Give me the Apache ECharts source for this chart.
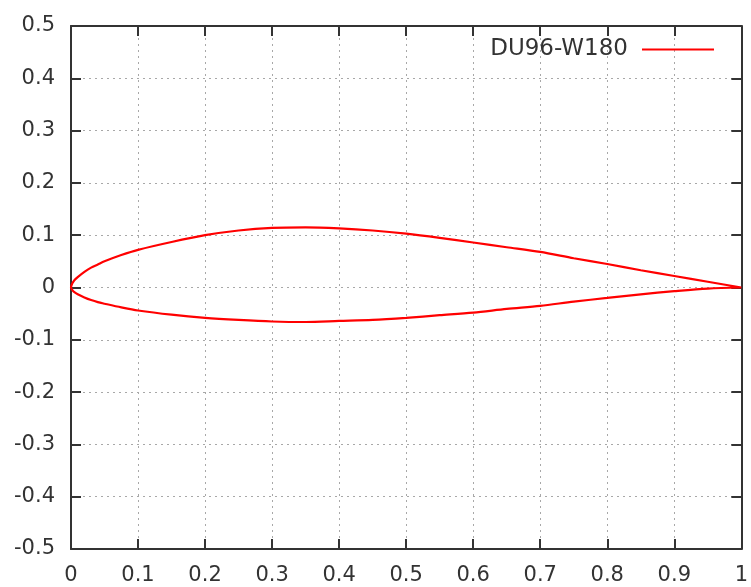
<!DOCTYPE html>
<html>
<head>
<meta charset="utf-8">
<script src="https://cdn.jsdelivr.net/npm/echarts@6/dist/echarts.min.js"></script>
<style>
html,body{margin:0;padding:0;background:#fff;}
#c{width:751px;height:587px;}
</style>
</head>
<body>
<div id="c"></div>
<script>
// Airfoil DU96-W180
var seriesName = 'DU96-W180';
// upper surface, trailing edge -> leading edge
var xUpper = [1.0, 0.95, 0.9, 0.85, 0.8, 0.75, 0.7, 0.65, 0.6, 0.55, 0.5, 0.45, 0.4, 0.35, 0.3, 0.25, 0.2, 0.15, 0.1, 0.075, 0.05, 0.04, 0.03, 0.02, 0.01, 0.005, 0.002, 0.0];
var yUpper = [0.0, 0.011, 0.022, 0.033, 0.045, 0.056, 0.068, 0.077, 0.086, 0.095, 0.103, 0.109, 0.113, 0.115, 0.114, 0.109, 0.100, 0.087, 0.072, 0.062, 0.050, 0.044, 0.038, 0.030, 0.020, 0.014, 0.008, 0.0];
// lower surface, leading edge -> trailing edge
var xLower = [0.002, 0.005, 0.01, 0.02, 0.03, 0.04, 0.05, 0.075, 0.1, 0.15, 0.2, 0.25, 0.3, 0.35, 0.4, 0.45, 0.5, 0.55, 0.6, 0.65, 0.7, 0.75, 0.8, 0.85, 0.9, 0.95, 1.0];
var yLower = [-0.005, -0.009, -0.013, -0.019, -0.024, -0.028, -0.031, -0.038, -0.044, -0.052, -0.058, -0.062, -0.065, -0.066, -0.064, -0.062, -0.058, -0.053, -0.048, -0.041, -0.035, -0.027, -0.020, -0.013, -0.007, -0.002, 0.0];
var xTicks = [0, 0.1, 0.2, 0.3, 0.4, 0.5, 0.6, 0.7, 0.8, 0.9, 1];
var yTicks = [-0.5, -0.4, -0.3, -0.2, -0.1, 0, 0.1, 0.2, 0.3, 0.4, 0.5];

var pts = [];
for (var i = 0; i < xUpper.length; i++) pts.push([xUpper[i], yUpper[i]]);
for (var j = 0; j < xLower.length; j++) pts.push([xLower[j], yLower[j]]);

var axisColor = '#333';
var font = 'DejaVu Sans';
function baseAxis(isX, pos, showLabel, showGrid) {
  var ticks = isX ? xTicks : yTicks;
  return {
    type: 'value',
    position: pos,
    min: ticks[0],
    max: ticks[ticks.length - 1],
    interval: 0.1,
    axisLine: { show: true, onZero: false, lineStyle: { color: axisColor, width: 2 } },
    axisTick: { show: true, inside: true, length: 10, lineStyle: { color: axisColor, width: 2 } },
    axisLabel: {
      show: showLabel,
      margin: 16,
      color: '#333',
      fontFamily: font,
      fontSize: 21,
      showMinLabel: true,
      showMaxLabel: true,
      formatter: function (v) { return String(Math.round(v * 10) / 10); }
    },
    splitLine: { show: showGrid, lineStyle: { color: '#a8a8a8', width: 1, type: [2, 4] } }
  };
}

var chart = echarts.init(document.getElementById('c'), null, { renderer: 'canvas' });
chart.setOption({
  animation: false,
  backgroundColor: '#fff',
  grid: { left: 71, right: 9, top: 26, bottom: 38, containLabel: false },
  legend: {
    show: true,
    data: [seriesName],
    right: 32,
    top: 33,
    align: 'right',
    icon: 'rect',
    itemWidth: 72,
    itemHeight: 2,
    textStyle: { fontFamily: font, fontSize: 23, color: '#333', padding: [0, 9, 0, 0] }
  },
  xAxis: [baseAxis(true, 'bottom', true, true), baseAxis(true, 'top', false, false)],
  yAxis: [baseAxis(false, 'left', true, true), baseAxis(false, 'right', false, false)],
  series: [{
    name: seriesName,
    type: 'line',
    xAxisIndex: 0,
    yAxisIndex: 0,
    data: pts,
    showSymbol: false,
    smooth: 0.3,
    lineStyle: { color: '#ff0000', width: 2.2 },
    itemStyle: { color: '#ff0000' }
  }]
});
</script>
</body>
</html>
